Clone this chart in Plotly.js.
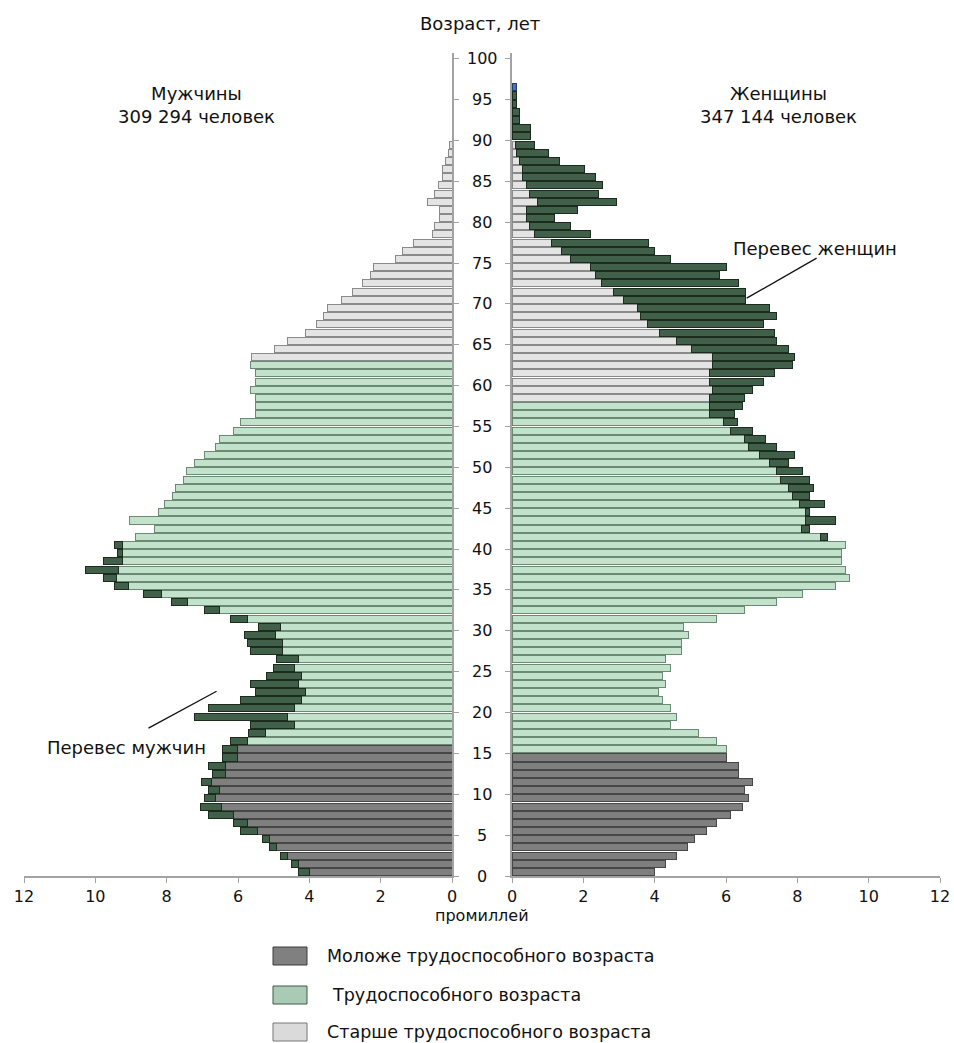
<!DOCTYPE html>
<html>
<head>
<meta charset="utf-8">
<script src="https://cdn.plot.ly/plotly-3.0.1.min.js"></script>
<style>html,body{margin:0;padding:0;background:#fff;}#chart{width:954px;height:1043px;}</style>
</head>
<body>
<div id="chart"></div>
<script>
// ---- data (per-mille of population), one value per single year of age ----
const ages = [0,1,2,3,4,5,6,7,8,9,10,11,12,13,14,15,16,17,18,19,20,21,22,23,24,25,26,27,28,29,
  30,31,32,33,34,35,36,37,38,39,40,41,42,43,44,45,46,47,48,49,50,51,52,53,54,55,56,57,58,59,
  60,61,62,63,64,65,66,67,68,69,70,71,72,73,74,75,76,77,78,79,80,81,82,83,84,85,86,87,88,89,
  90,91,92,93,94,95,96];

const menTotal = [
  4.31,4.5,4.82,5.13,5.32,5.94,6.13,6.83,7.04,6.94,
  6.82,7.02,6.71,6.83,6.43,6.43,6.22,5.71,5.64,7.23,
  6.83,5.94,5.52,5.64,5.2,5.01,4.93,5.64,5.73,5.83,
  5.43,6.22,6.95,7.86,8.64,9.45,9.76,10.27,9.76,9.37,
  9.45,8.86,8.33,9.03,8.23,8.05,7.84,7.74,7.53,7.44,
  7.23,6.95,6.64,6.52,6.13,5.94,5.52,5.52,5.52,5.64,
  5.52,5.52,5.64,5.63,4.99,4.6,4.11,3.8,3.6,3.5,
  3.1,2.78,2.5,2.28,2.2,1.58,1.39,1.08,0.55,0.48,
  0.36,0.36,0.68,0.48,0.37,0.28,0.26,0.17,0.1,0.07,
  0,0,0,0,0,0,0];

const menExcess = [
  0.31,0.19,0.2,0.2,0.19,0.5,0.41,0.7,0.58,0.3,
  0.29,0.28,0.37,0.49,0.41,0.41,0.5,0.49,1.21,2.61,
  2.4,1.72,1.4,1.33,0.98,0.58,0.62,0.9,0.99,0.89,
  0.61,0.5,0.42,0.44,0.5,0.39,0.36,0.93,0.52,0.13,
  0.22,0,0,0,0,0,0,0,0,0,
  0,0,0,0,0,0,0,0,0,0,
  0,0,0,0,0,0,0,0,0,0,
  0,0,0,0,0,0,0,0,0,0,
  0,0,0,0,0,0,0,0,0,0,
  0,0,0,0,0,0,0];

const womenTotal = [
  4.0,4.31,4.62,4.93,5.13,5.44,5.72,6.13,6.46,6.64,
  6.53,6.74,6.34,6.34,6.02,6.02,5.72,5.22,4.43,4.62,
  4.43,4.22,4.12,4.31,4.22,4.43,4.31,4.74,4.74,4.94,
  4.82,5.72,6.53,7.42,8.14,9.06,9.46,9.34,9.24,9.24,
  9.35,8.84,8.34,9.06,8.34,8.75,8.34,8.45,8.34,8.14,
  7.75,7.93,7.42,7.12,6.74,6.33,6.23,6.46,6.53,6.74,
  7.05,7.35,7.86,7.93,7.75,7.42,7.35,7.05,7.42,7.23,
  6.55,6.55,6.35,5.83,6.02,4.43,4.0,3.82,2.21,1.63,
  1.2,1.83,2.92,2.42,2.53,2.35,2.03,1.33,1.02,0.63,
  0.52,0.52,0.2,0.2,0.13,0.13,0.13];

const womenExcess = [
  0,0,0,0,0,0,0,0,0,0,
  0,0,0,0,0,0,0,0,0,0,
  0,0,0,0,0,0,0,0,0,0,
  0,0,0,0,0,0,0,0,0,0,
  0,0.2,0.22,0.83,0.11,0.7,0.48,0.7,0.8,0.72,
  0.52,1.0,0.78,0.59,0.6,0.39,0.7,0.93,1.0,1.11,
  1.52,1.82,2.23,2.3,2.73,2.8,3.22,3.25,3.83,3.71,
  3.43,3.71,3.84,3.5,3.82,2.8,2.61,2.71,1.59,1.13,
  0.79,1.42,2.21,1.92,2.12,2.05,1.73,1.13,0.89,0.52,
  0.52,0.52,0.2,0.2,0.13,0.13,0.13];

// age-group boundaries as drawn (first working-age year, first post-working year)
const menWorkFrom = 16, menOldFrom = 63;
const womenWorkFrom = 15, womenOldFrom = 58;
const blueRows = [96];

const ageTicks = [0,5,10,15,20,25,30,35,40,45,50,55,60,65,70,75,80,85,90,95,100];
const valueTicks = [0,2,4,6,8,10,12];

const legendLabels = ['Моложе трудоспособного возраста','Трудоспособного возраста','Старше трудоспособного возраста'];
const sexLabels = ['Мужчины<br>309 294 человек','Женщины<br>347 144 человек'];

// ---- styling ----
const FONT = 'DejaVu Sans, Liberation Sans, sans-serif';
const groupFill = ['#7f7f7f', '#c2e2cb', '#e4e4e4'];
const groupLine = ['#474747', '#6a8a73', '#8a8a8a'];
const excessFill = '#40604a', excessLine = '#1b2c1f';
const blueFill = '#4a72b0', blueLine = '#1f3d6e';
const BW = 0.86, BOFF = 0.5 - BW / 2;

function grp(a, workFrom, oldFrom) { return a < workFrom ? 0 : (a < oldFrom ? 1 : 2); }
const nz = v => (v > 0 ? v : null);

const menBase = menTotal.map((t, i) => nz(+(t - menExcess[i]).toFixed(3)));
const womenBase = womenTotal.map((t, i) => nz(+(t - womenExcess[i]).toFixed(3)));

function baseTrace(vals, workFrom, oldFrom, xa, ya) {
  const g = ages.map(a => grp(a, workFrom, oldFrom));
  return {type: 'bar', orientation: 'h', x: vals, y: ages, xaxis: xa, yaxis: ya,
    width: BW, offset: BOFF, hoverinfo: 'x+y',
    marker: {color: g.map(k => groupFill[k]), line: {color: g.map(k => groupLine[k]), width: 1}}};
}
function excessTrace(vals, xa, ya) {
  const isBlue = ages.map(a => blueRows.includes(a));
  return {type: 'bar', orientation: 'h', x: vals.map(nz), y: ages, xaxis: xa, yaxis: ya,
    width: BW, offset: BOFF, hoverinfo: 'x+y',
    marker: {color: isBlue.map(b => b ? blueFill : excessFill), line: {color: isBlue.map(b => b ? blueLine : excessLine), width: 1}}};
}

const data = [
  baseTrace(menBase, menWorkFrom, menOldFrom, 'x', 'y'),
  excessTrace(menExcess, 'x', 'y'),
  baseTrace(womenBase, womenWorkFrom, womenOldFrom, 'x2', 'y2'),
  excessTrace(womenExcess, 'x2', 'y2')
];

// ---- layout geometry ----
const W = 954, H = 1043, ML = 24, MR = 14, MT = 53, MB = 167;
const PW = W - ML - MR, PH = H - MT - MB;
const px = x => (x - ML) / PW;          // page x -> paper
const py = y => (H - MB - y) / PH;      // page y -> paper

const axisCommon = {showgrid: false, zeroline: false, showline: true, linecolor: '#a3a3a3', linewidth: 2,
  ticks: 'outside', ticklen: 5, tickcolor: '#a3a3a3', tickwidth: 1, fixedrange: true,
  tickfont: {family: FONT, size: 16, color: '#111'}};

const TXT = {family: FONT, size: 18, color: '#111'};
const annotations = [];
ageTicks.forEach(t => annotations.push({xref: 'paper', yref: 'y', x: px(482), y: t, text: String(t),
  showarrow: false, xanchor: 'center', yanchor: 'middle', font: {family: FONT, size: 16, color: '#111'}}));
function note(x, y, text, font, anchor) {
  annotations.push({xref: 'paper', yref: 'paper', x: px(x), y: py(y), text: text, showarrow: false,
    xanchor: anchor || 'center', yanchor: 'middle', font: font || TXT});
}
note(480, 24, 'Возраст, лет');
note(196, 105, sexLabels[0]);
note(778, 105, sexLabels[1]);
note(815, 248, 'Перевес женщин');
note(126, 747, 'Перевес мужчин');
note(482, 915, 'промиллей', {family: FONT, size: 16, color: '#111'});

const legY = [956, 995, 1032], legTextX = [325, 330, 325];
const legFill = ['#808080', '#a9cbb6', '#dadada'], legLine = ['#3a3a3a', '#3f5d48', '#777777'];
const shapes = [];
legendLabels.forEach((lab, i) => {
  shapes.push({type: 'rect', xref: 'paper', yref: 'paper', x0: px(273), x1: px(307), y0: py(legY[i] + 9), y1: py(legY[i] - 9),
    fillcolor: legFill[i], line: {color: legLine[i], width: 1}});
  note(legTextX[i], legY[i], lab, {family: FONT, size: 17.5, color: '#111'}, 'left');
});
// pointer lines
shapes.push({type: 'line', xref: 'x2', yref: 'y2', x0: 6.58, y0: 70.7, x1: 8.54, y1: 75.6, line: {color: '#111', width: 1.3}});
shapes.push({type: 'line', xref: 'x', yref: 'y', x0: 8.51, y0: 18.1, x1: 6.6, y1: 22.6, line: {color: '#111', width: 1.3}});

const layout = {
  width: W, height: H, margin: {l: ML, r: MR, t: MT, b: MB, pad: 0},
  paper_bgcolor: '#fff', plot_bgcolor: '#fff', barmode: 'stack', showlegend: false,
  font: {family: FONT, size: 16, color: '#111'},
  xaxis: Object.assign({}, axisCommon, {domain: [0, px(452)], range: [12, 0], tickvals: valueTicks, anchor: 'y'}),
  xaxis2: Object.assign({}, axisCommon, {domain: [px(512), 1], range: [0, 12], tickvals: valueTicks, anchor: 'y2'}),
  yaxis: Object.assign({}, axisCommon, {range: [0, 100.7], tickvals: ageTicks, showticklabels: false, side: 'right', anchor: 'x'}),
  yaxis2: Object.assign({}, axisCommon, {range: [0, 100.7], tickvals: ageTicks, showticklabels: false, side: 'left', anchor: 'x2', matches: 'y'}),
  annotations: annotations, shapes: shapes
};

Plotly.newPlot('chart', data, layout, {displayModeBar: false, staticPlot: true});
</script>
</body>
</html>
